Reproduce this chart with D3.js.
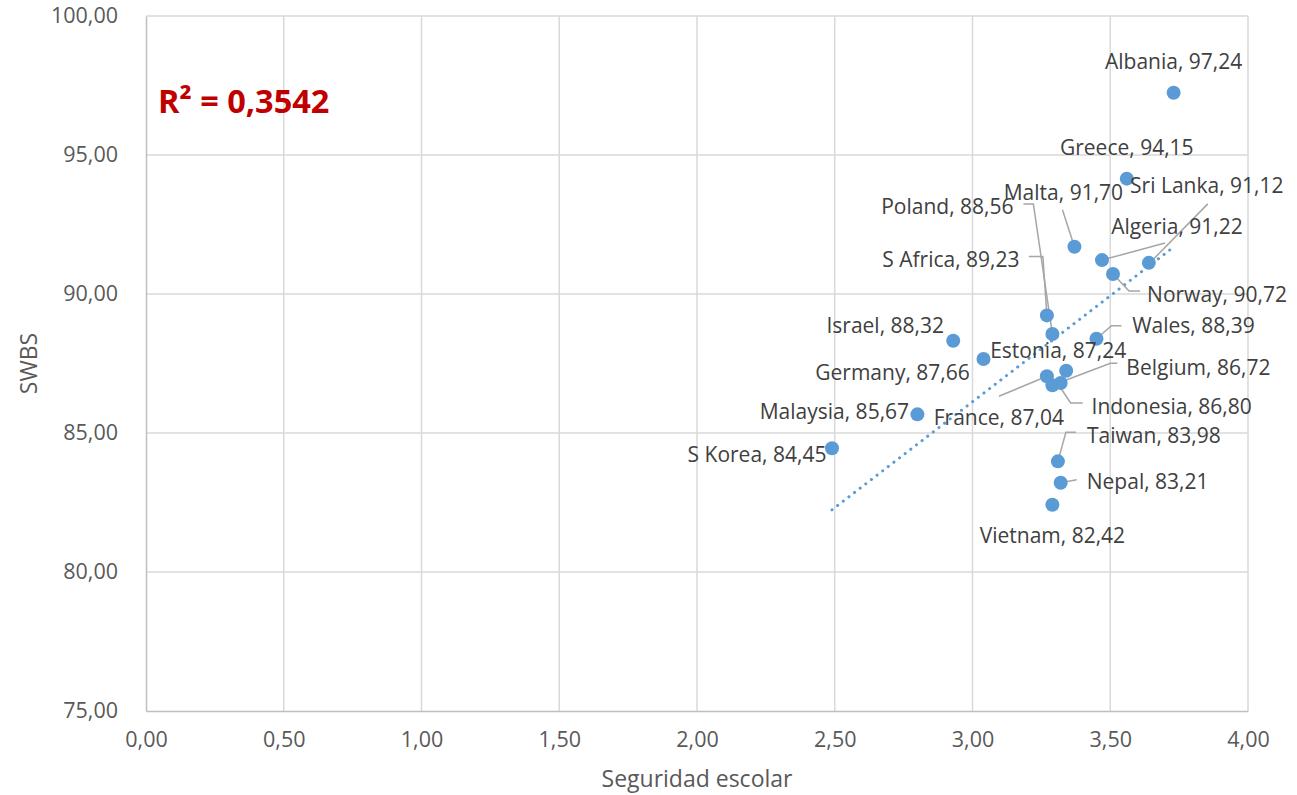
<!DOCTYPE html>
<html>
<head>
<meta charset="utf-8">
<script src="https://cdn.jsdelivr.net/npm/d3@7"></script>
<style>
  body { margin: 0; background: #fff; }
  text { font-family: "Open Sans", sans-serif; }
</style>
</head>
<body>
<svg width="1297" height="795"></svg>
<script>
// datos
var countries = ["Albania", "Greece", "Malta", "Sri Lanka", "Algeria", "Norway", "S Africa", "Poland",
    "Israel", "Wales", "Germany", "Estonia", "France", "Belgium", "Indonesia", "Malaysia",
    "S Korea", "Taiwan", "Nepal", "Vietnam"];
var seguridad = [3.73, 3.56, 3.37, 3.64, 3.47, 3.51, 3.27, 3.29,
    2.93, 3.45, 3.04, 3.34, 3.27, 3.29, 3.32, 2.80,
    2.49, 3.31, 3.32, 3.29];
var swbs = [97.24, 94.15, 91.70, 91.12, 91.22, 90.72, 89.23, 88.56,
    88.32, 88.39, 87.66, 87.24, 87.04, 86.72, 86.80, 85.67,
    84.45, 83.98, 83.21, 82.42];
var xTicks = [0, 0.5, 1, 1.5, 2, 2.5, 3, 3.5, 4];
var yTicks = [75, 80, 85, 90, 95, 100];
var r2Text = "R² = 0,3542";

// posicion de etiquetas (px relativo al punto) y lineas guia
var labelPos = {
    "Albania": { dx: 0, dy: -31 },
    "Greece": { dx: 0, dy: -31 },
    "Malta": { dx: -11, dy: -54, lead: [[-12, -37], [0, 0]] },
    "Sri Lanka": { dx: 58, dy: -77, lead: [[59, -59], [1, 0]] },
    "Algeria": { dx: 75, dy: -33, lead: [[63, -17], [0, 0]] },
    "Norway": { dx: 104, dy: 21, lead: [[0, 0], [16, 17], [27, 17]] },
    "S Africa": { dx: -96, dy: -56, lead: [[-18, -59], [-4, -59], [0, 0]] },
    "Poland": { dx: -105, dy: -127, lead: [[-29, -130], [-19, -130], [0, 0]] },
    "Israel": { dx: -68, dy: -15 },
    "Wales": { dx: 97, dy: -13, lead: [[0, 0], [15, -13], [25, -13]] },
    "Germany": { dx: -91, dy: 14 },
    "Estonia": { dx: -8, dy: -20 },
    "France": { dx: -48, dy: 41, lead: [[-48, 20], [0, 0]] },
    "Belgium": { dx: 146, dy: -18, lead: [[0, 0], [58, -22], [65, -22]] },
    "Indonesia": { dx: 111, dy: 24, lead: [[-2, 2], [10, 20], [22, 20]] },
    "Malaysia": { dx: -83, dy: -3 },
    "S Korea": { dx: -75, dy: 6 },
    "Taiwan": { dx: 96, dy: -26, lead: [[0, 0], [8, -29], [18, -29]] },
    "Nepal": { dx: 87, dy: -1, lead: [[0, 0], [16, -3]] },
    "Vietnam": { dx: 0, dy: 31 }
};

var svg = d3.select("svg");
var margin = { left: 146, right: 49, top: 16, bottom: 84 };
var width = 1297, height = 795;

var es = d3.formatLocale({ decimal: ",", thousands: ".", grouping: [3], currency: ["", "€"] });
var fmt = es.format(".2f");

var x = d3.scaleLinear().domain([0, 4]).range([margin.left, width - margin.right]);
var y = d3.scaleLinear().domain([75, 100]).range([height - margin.bottom, margin.top]);

var points = countries.map(function(c, i) {
    return { name: c, x: seguridad[i], y: swbs[i] };
});

// rejilla
svg.append("g")
    .attr("class", "grid")
    .selectAll("line.v")
    .data(xTicks.slice(1))
    .enter().append("line")
    .attr("x1", function(d) { return x(d); })
    .attr("x2", function(d) { return x(d); })
    .attr("y1", y(75))
    .attr("y2", y(100))
    .attr("stroke", "#d9d9d9")
    .attr("stroke-width", 1.5);

svg.append("g")
    .selectAll("line")
    .data(yTicks.slice(1))
    .enter().append("line")
    .attr("x1", x(0))
    .attr("x2", x(4))
    .attr("y1", function(d) { return y(d); })
    .attr("y2", function(d) { return y(d); })
    .attr("stroke", "#d9d9d9")
    .attr("stroke-width", 1.5);

// ejes
var xAxis = svg.append("g")
    .attr("transform", "translate(0," + y(75) + ")")
    .call(d3.axisBottom(x).tickValues(xTicks).tickFormat(fmt).tickSize(0).tickPadding(21));
var yAxis = svg.append("g")
    .attr("transform", "translate(" + x(0) + ",0)")
    .call(d3.axisLeft(y).tickValues(yTicks).tickFormat(fmt).tickSize(0).tickPadding(28));

[xAxis, yAxis].forEach(function(a) {
    a.select(".domain").attr("stroke", "#bfbfbf").attr("stroke-width", 1.5);
    a.selectAll("text").attr("fill", "#595959").style("font-size", "21.5px")
        .style("font-family", "'Open Sans', sans-serif");
});

svg.append("text")
    .attr("x", (x(0) + x(4)) / 2)
    .attr("y", 787)
    .attr("text-anchor", "middle")
    .attr("fill", "#595959")
    .style("font-size", "23px")
    .text("Seguridad escolar");

svg.append("text")
    .attr("transform", "translate(37," + ((y(75) + y(100)) / 2) + ") rotate(-90)")
    .attr("text-anchor", "middle")
    .attr("fill", "#595959")
    .style("font-size", "23px")
    .text("SWBS");

// linea de tendencia (minimos cuadrados)
var mx = d3.mean(seguridad), my = d3.mean(swbs);
var sxy = d3.sum(seguridad, function(v, i) { return (v - mx) * (swbs[i] - my); });
var sxx = d3.sum(seguridad, function(v) { return (v - mx) * (v - mx); });
var slope = sxy / sxx, intercept = my - slope * mx;
var xr = d3.extent(seguridad);

svg.append("line")
    .attr("x1", x(xr[0]))
    .attr("y1", y(intercept + slope * xr[0]))
    .attr("x2", x(xr[1]))
    .attr("y2", y(intercept + slope * xr[1]))
    .attr("stroke", "#5b9bd5")
    .attr("stroke-width", 3)
    .attr("stroke-linecap", "round")
    .attr("stroke-dasharray", "0.1 7");

// lineas guia
var lineGen = d3.line();
svg.append("g")
    .selectAll("path")
    .data(points.filter(function(d) { return labelPos[d.name].lead; }))
    .enter().append("path")
    .attr("d", function(d) {
        var px = x(d.x), py = y(d.y);
        return lineGen(labelPos[d.name].lead.map(function(p) { return [px + p[0], py + p[1]]; }));
    })
    .attr("fill", "none")
    .attr("stroke", "#a6a6a6")
    .attr("stroke-width", 1.5);

// puntos
svg.append("g")
    .selectAll("circle")
    .data(points)
    .enter().append("circle")
    .attr("cx", function(d) { return x(d.x); })
    .attr("cy", function(d) { return y(d.y); })
    .attr("r", 7)
    .attr("fill", "#5b9bd5");

// etiquetas
svg.append("g")
    .selectAll("text")
    .data(points)
    .enter().append("text")
    .attr("x", function(d) { return x(d.x) + labelPos[d.name].dx; })
    .attr("y", function(d) { return y(d.y) + labelPos[d.name].dy; })
    .attr("dy", "0.35em")
    .attr("text-anchor", "middle")
    .attr("fill", "#404040")
    .style("font-size", "21px")
    .text(function(d) { return d.name + ", " + fmt(d.y); });

svg.append("text")
    .attr("x", 158)
    .attr("y", 113)
    .attr("fill", "#c00000")
    .style("font-size", "32.5px")
    .style("font-weight", "bold")
    .text(r2Text);
</script>
</body>
</html>
